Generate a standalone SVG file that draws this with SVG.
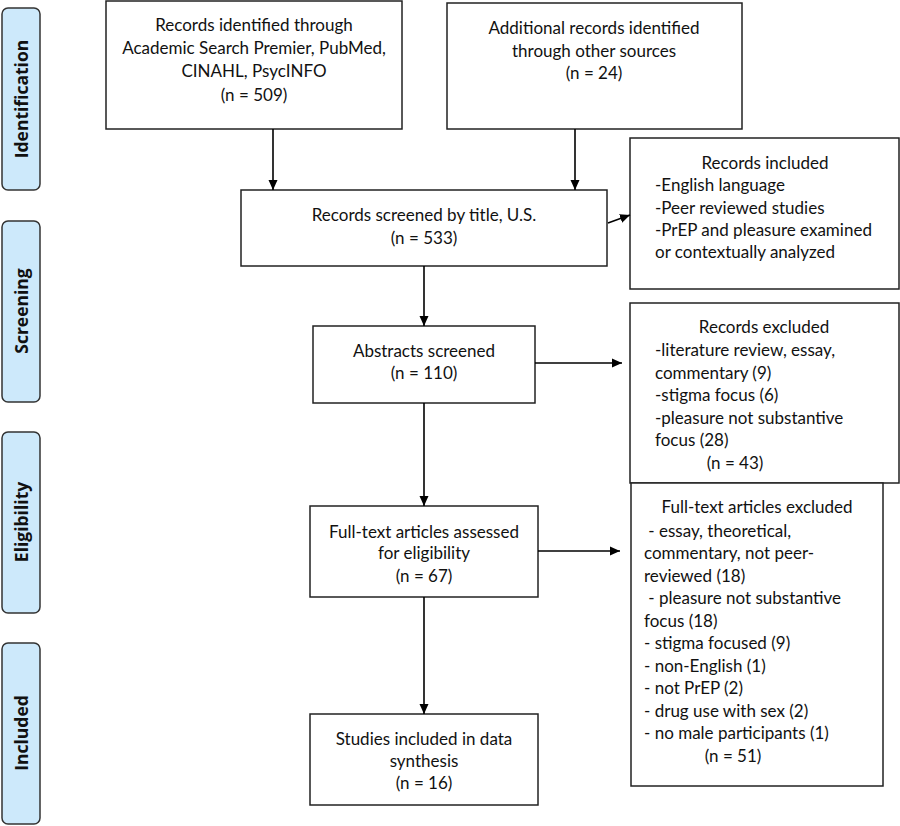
<svg xmlns="http://www.w3.org/2000/svg" width="900" height="826" viewBox="0 0 900 826">
<defs>
<marker id="ah" markerWidth="10" markerHeight="10" refX="10" refY="5" orient="auto" markerUnits="userSpaceOnUse">
<path d="M0,0.5 L10,5 L0,9.5 Z" fill="#000"/>
</marker>
</defs>
<style>
.box{fill:#fff;stroke:#222;stroke-width:1.5}
.side{fill:#cde9fb;stroke:#333;stroke-width:1.5}
.t{font-family:Lato,"Liberation Sans",sans-serif;font-size:17px;fill:#111}
.c{text-anchor:middle}
.s{font-family:"Open Sans","Liberation Sans",sans-serif;font-size:17.5px;font-weight:bold;fill:#111;text-anchor:middle}
.ln{stroke:#000;stroke-width:1.6;fill:none}
</style>
<rect width="900" height="826" fill="#fff"/>

<g id="side-identification"><rect class="side" x="2" y="8" width="38" height="182" rx="6"/><text class="s" transform="translate(28,99) rotate(-90)">Identification</text></g>
<g id="side-screening"><rect class="side" x="2" y="221" width="38" height="181" rx="6"/><text class="s" transform="translate(28,311) rotate(-90)">Screening</text></g>
<g id="side-eligibility"><rect class="side" x="2" y="432" width="38" height="181" rx="6"/><text class="s" transform="translate(28,522) rotate(-90)">Eligibility</text></g>
<g id="side-included"><rect class="side" x="2" y="643" width="38" height="181" rx="6"/><text class="s" transform="translate(28,733) rotate(-90)">Included</text></g>

<g id="n-db"><rect class="box" x="106" y="1" width="296" height="128"/>
<text class="t c" x="254" y="31">Records identified through</text>
<text class="t c" x="254" y="54">Academic Search Premier, PubMed,</text>
<text class="t c" x="254" y="77">CINAHL, PsycINFO</text>
<text class="t c" x="254" y="101">(n = 509)</text></g>

<g id="n-other"><rect class="box" x="447" y="3" width="295" height="126"/>
<text class="t c" x="594" y="34">Additional records identified</text>
<text class="t c" x="594" y="57">through other sources</text>
<text class="t c" x="594" y="79">(n = 24)</text></g>

<g id="n-screened"><rect class="box" x="241" y="190" width="366" height="76"/>
<text class="t c" x="424" y="221">Records screened by title, U.S.</text>
<text class="t c" x="424" y="244">(n = 533)</text></g>

<g id="n-incl"><rect class="box" x="630" y="138" width="269" height="151"/>
<text class="t c" x="765" y="169">Records included</text>
<text class="t" x="655" y="191">-English language</text>
<text class="t" x="655" y="214">-Peer reviewed studies</text>
<text class="t" x="655" y="236">-PrEP and pleasure examined</text>
<text class="t" x="655" y="258">or contextually analyzed</text></g>

<g id="n-abs"><rect class="box" x="313" y="326" width="222" height="77"/>
<text class="t c" x="424" y="357">Abstracts screened</text>
<text class="t c" x="424" y="379">(n = 110)</text></g>

<g id="n-excl"><rect class="box" x="630" y="303" width="269" height="180"/>
<text class="t c" x="764" y="333">Records excluded</text>
<text class="t" x="655" y="356">-literature review, essay,</text>
<text class="t" x="655" y="379">commentary (9)</text>
<text class="t" x="655" y="401">-stigma focus (6)</text>
<text class="t" x="655" y="424">-pleasure not substantive</text>
<text class="t" x="655" y="446">focus (28)</text>
<text class="t c" x="735" y="469">(n = 43)</text></g>

<g id="n-full"><rect class="box" x="310" y="506" width="228" height="91"/>
<text class="t c" x="424" y="538">Full-text articles assessed</text>
<text class="t c" x="424" y="559">for eligibility</text>
<text class="t c" x="424" y="582">(n = 67)</text></g>

<g id="n-fexcl"><rect class="box" x="631" y="483" width="252" height="303"/>
<text class="t c" x="757" y="513">Full-text articles excluded</text>
<text class="t" x="644" y="537" xml:space="preserve"> - essay, theoretical,</text>
<text class="t" x="644" y="559">commentary, not peer-</text>
<text class="t" x="644" y="582">reviewed (18)</text>
<text class="t" x="644" y="604" xml:space="preserve"> - pleasure not substantive</text>
<text class="t" x="644" y="627">focus (18)</text>
<text class="t" x="644" y="649">- stigma focused (9)</text>
<text class="t" x="644" y="672">- non-English (1)</text>
<text class="t" x="644" y="694">- not PrEP (2)</text>
<text class="t" x="644" y="717">- drug use with sex (2)</text>
<text class="t" x="644" y="739">- no male participants (1)</text>
<text class="t c" x="733" y="762">(n = 51)</text></g>

<g id="n-studies"><rect class="box" x="310" y="714" width="228" height="91"/>
<text class="t c" x="424" y="745">Studies included in data</text>
<text class="t c" x="424" y="767">synthesis</text>
<text class="t c" x="424" y="789">(n = 16)</text></g>

<g id="connectors">
<line class="ln" x1="273" y1="129" x2="273" y2="190" marker-end="url(#ah)"/>
<line class="ln" x1="575" y1="129" x2="575" y2="190" marker-end="url(#ah)"/>
<line class="ln" x1="608" y1="223" x2="630" y2="215" marker-end="url(#ah)"/>
<line class="ln" x1="424" y1="266" x2="424" y2="326" marker-end="url(#ah)"/>
<line class="ln" x1="535" y1="363" x2="622" y2="363" marker-end="url(#ah)"/>
<line class="ln" x1="424" y1="403" x2="424" y2="506" marker-end="url(#ah)"/>
<line class="ln" x1="538" y1="551" x2="620" y2="551" marker-end="url(#ah)"/>
<line class="ln" x1="424" y1="597" x2="424" y2="714" marker-end="url(#ah)"/>
</g>
</svg>
